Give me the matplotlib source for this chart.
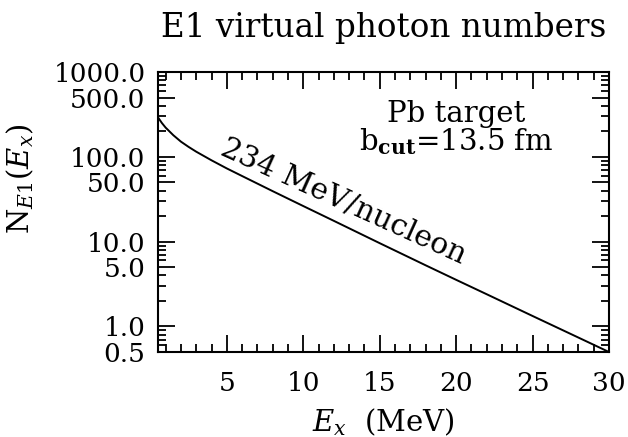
import numpy as np
import matplotlib
matplotlib.use("Agg")
import matplotlib.pyplot as plt
from matplotlib.ticker import FixedLocator, FuncFormatter

plt.rcParams['font.family'] = 'serif'
plt.rcParams['font.serif'] = ['DejaVu Serif']
plt.rcParams['mathtext.fontset'] = 'dejavuserif'

# excitation energy (MeV) and E1 virtual photon number
e_x = [0.5, 0.75, 1.0, 1.5, 2.0, 2.5, 3.0, 4.0, 5.0, 6.0, 8.0, 10.0,
       12.0, 15.0, 18.0, 20.0, 22.0, 25.0, 28.0, 30.0]
n_e1 = [292, 251, 221, 180, 151, 131, 115, 91, 73, 59.4, 39.4, 26.3,
        17.6, 9.6, 5.27, 3.55, 2.40, 1.33, 0.74, 0.50]

y_major = [0.5, 1, 5, 10, 50, 100, 500, 1000]
y_minor = [0.6, 0.7, 0.8, 0.9, 2, 3, 4, 6, 7, 8, 9, 20, 30, 40, 60, 70, 80, 90,
           200, 300, 400, 600, 700, 800, 900]
x_major = [5, 10, 15, 20, 25, 30]

fig = plt.figure(figsize=(6.28, 4.37), dpi=100)
ax = fig.add_axes([0.2516, 0.1945, 0.7181, 0.6407])

ax.plot(e_x, n_e1, color='black', lw=1.4)

ax.set_yscale('log')
ax.set_xlim(0.5, 30)
ax.set_ylim(0.5, 1000)

ax.xaxis.set_major_locator(FixedLocator(x_major))
ax.xaxis.set_minor_locator(FixedLocator(np.arange(1, 30)))
ax.yaxis.set_major_locator(FixedLocator(y_major))
ax.yaxis.set_minor_locator(FixedLocator(y_minor))
ax.yaxis.set_major_formatter(FuncFormatter(lambda v, p: '%.1f' % v))
ax.xaxis.set_major_formatter(FuncFormatter(lambda v, p: '%d' % v))

ax.tick_params(which='both', direction='in', top=True, right=True, width=1.3)
ax.tick_params(which='major', length=12, labelsize=19)
ax.tick_params(axis='x', which='major', pad=14)
ax.tick_params(axis='y', which='major', pad=9)
ax.tick_params(which='minor', length=5.5)
for s in ax.spines.values():
    s.set_linewidth(1.5)

ax.set_xlabel(r'$E_x$  (MeV)', fontsize=21, labelpad=7)
ax.set_ylabel(r'N$_{E\mathrm{1}}$($E_x$)', fontsize=21)
ax.yaxis.set_label_coords(-0.27, 0.62)
ax.set_title('E1 virtual photon numbers', fontsize=23.5, pad=25)

ax.text(12.4, 24.5, '234 MeV/nucleon', fontsize=21.5, rotation=-24.4,
        rotation_mode='anchor', ha='center', va='baseline')
ax.text(20.0, 259, 'Pb target', fontsize=21, ha='center', va='baseline')
ax.text(20.0, 120, r'b$_{\mathbf{cut}}$=13.5 fm', fontsize=21,
        ha='center', va='baseline')

fig.savefig('out.png', dpi=100)
